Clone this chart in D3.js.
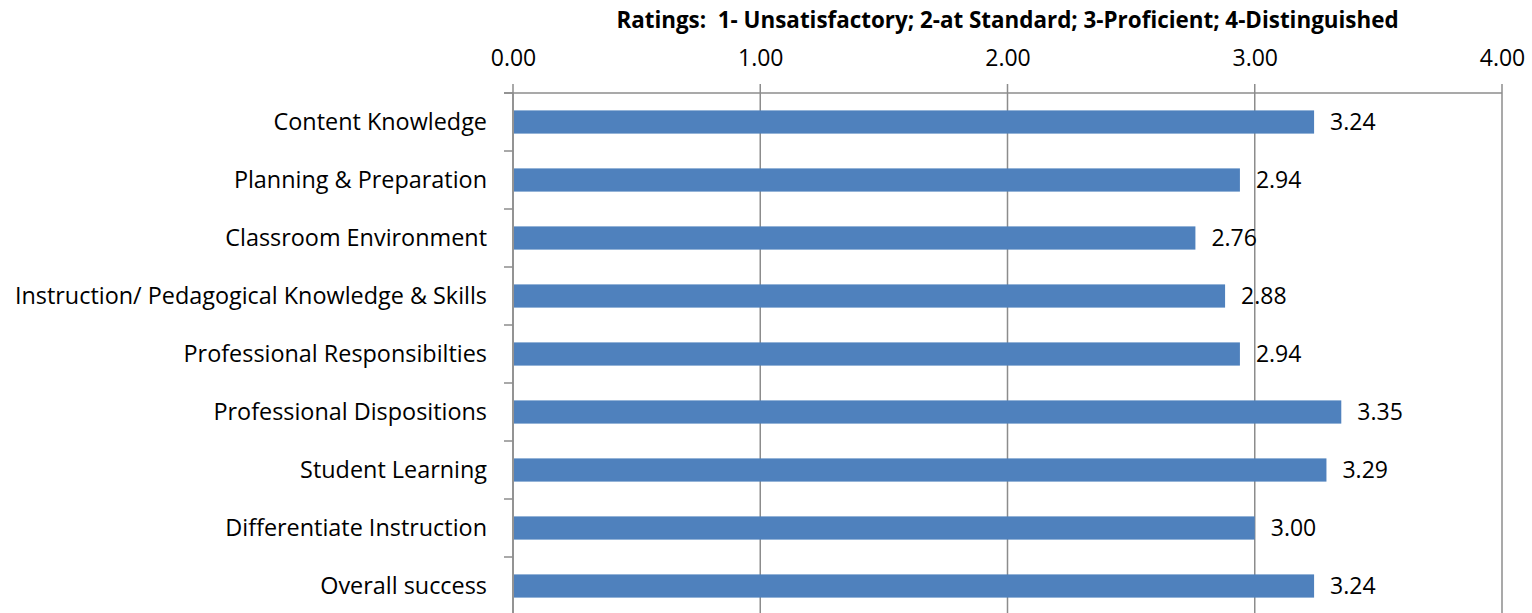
<!DOCTYPE html>
<html>
<head>
<meta charset="utf-8">
<script src="https://cdn.jsdelivr.net/npm/d3@7"></script>
<style>
  body { margin: 0; background: #fff; }
  svg { display: block; font-family: "Open Sans", sans-serif; }
</style>
</head>
<body>
<svg width="1532" height="613"></svg>
<script>
// chart data
var categories = ["Content Knowledge", "Planning & Preparation", "Classroom Environment",
  "Instruction/ Pedagogical Knowledge & Skills", "Professional Responsibilties",
  "Professional Dispositions", "Student Learning", "Differentiate Instruction", "Overall success"];
var ratings = [3.24, 2.94, 2.76, 2.88, 2.94, 3.35, 3.29, 3.00, 3.24];
var xTicks = [0, 1, 2, 3, 4];
var title = "Ratings:  1- Unsatisfactory; 2-at Standard; 3-Proficient; 4-Distinguished";

var plotLeft = 513, plotRight = 1502, plotTop = 93, plotBottom = 615;
var svg = d3.select("svg");

var x = d3.scaleLinear().domain([0, 4]).range([plotLeft, plotRight]);
var y = d3.scaleBand().domain(categories).range([plotTop, plotBottom])
  .paddingInner(0.6).paddingOuter(0.3);

// title
svg.append("text")
  .attr("x", x(2)).attr("y", 28)
  .attr("text-anchor", "middle")
  .style("font-weight", "bold").style("font-size", "22.4px")
  .style("white-space", "pre")
  .text(title);

// gridlines
svg.append("g").selectAll("line").data(xTicks).enter().append("line")
  .attr("x1", d => x(d)).attr("x2", d => x(d))
  .attr("y1", plotTop - 9).attr("y2", plotBottom)
  .attr("stroke", "#8c8c8c").attr("stroke-width", 1.5);

// top axis
var xAxis = d3.axisTop(x).tickValues(xTicks).tickFormat(d3.format(".2f"))
  .tickSize(0).tickPadding(27);
var gx = svg.append("g").attr("transform", "translate(0," + plotTop + ")").call(xAxis);
gx.select(".domain").remove();
gx.selectAll("text").style("font-size", "23px").attr("fill", "#000").style("font-family", "'Open Sans', sans-serif");
svg.append("line").attr("x1", plotLeft - 9).attr("x2", plotRight).attr("y1", plotTop).attr("y2", plotTop)
  .attr("stroke", "#8c8c8c").attr("stroke-width", 1.5);

// left axis with ticks at band boundaries
svg.append("line").attr("x1", plotLeft).attr("x2", plotLeft).attr("y1", plotTop).attr("y2", plotBottom)
  .attr("stroke", "#8c8c8c").attr("stroke-width", 1.5);
var bounds = categories.map(c => y(c) - y.step() * y.paddingInner() / 2).concat([plotBottom]);
svg.append("g").selectAll("line").data(bounds).enter().append("line")
  .attr("x1", plotLeft - 9).attr("x2", plotLeft)
  .attr("y1", d => d).attr("y2", d => d)
  .attr("stroke", "#8c8c8c").attr("stroke-width", 1.5);

// category labels
svg.append("g").selectAll("text").data(categories).enter().append("text")
  .attr("x", plotLeft - 26).attr("y", d => y(d) + y.bandwidth() / 2)
  .attr("dy", "0.35em").attr("text-anchor", "end")
  .style("font-size", "23.4px")
  .text(d => d);

// bars
svg.append("g").selectAll("rect").data(ratings).enter().append("rect")
  .attr("x", plotLeft + 1)
  .attr("y", (d, i) => y(categories[i]))
  .attr("width", d => x(d) - plotLeft - 1)
  .attr("height", y.bandwidth())
  .attr("fill", "#4f81bd");

// value labels
svg.append("g").selectAll("text").data(ratings).enter().append("text")
  .attr("x", d => x(d) + 16)
  .attr("y", (d, i) => y(categories[i]) + y.bandwidth() / 2)
  .attr("dy", "0.35em")
  .style("font-size", "23px")
  .text(d => d.toFixed(2));
</script>
</body>
</html>
